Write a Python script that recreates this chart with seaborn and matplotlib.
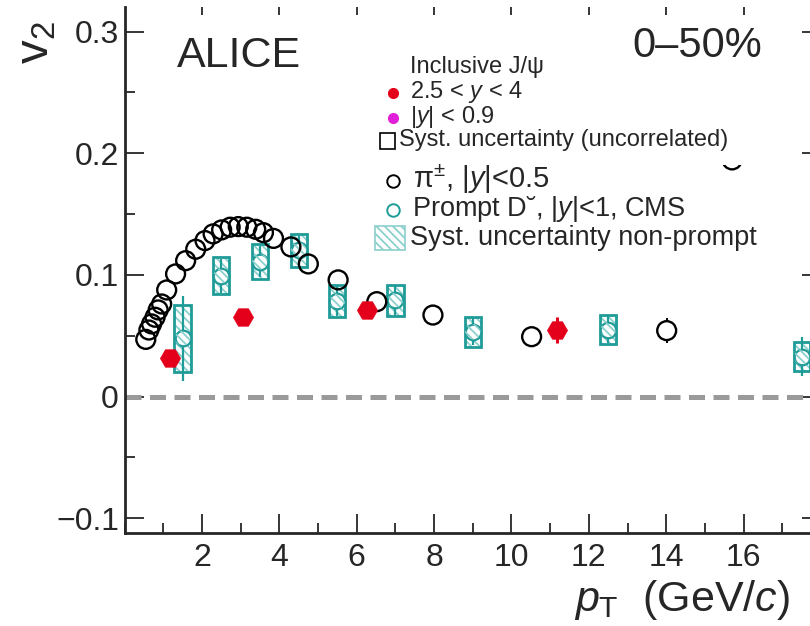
import matplotlib
matplotlib.use("Agg")
import matplotlib.pyplot as plt
import seaborn as sns
import pandas as pd
from matplotlib.patches import Rectangle
from matplotlib.lines import Line2D
from matplotlib.ticker import MultipleLocator, FixedLocator, NullFormatter

# ---------------- data ----------------
pion_pt = [0.55, 0.63, 0.70, 0.79, 0.87, 0.96, 1.09, 1.32, 1.58, 1.84, 2.08, 2.29, 2.51,
           2.73, 2.94, 3.16, 3.39, 3.59, 3.85, 4.30, 4.75, 5.52, 6.52, 7.97, 10.52, 14.01, 15.7]
pion_v2 = [0.047, 0.0547, 0.0597, 0.0652, 0.0712, 0.0761, 0.0876, 0.1008, 0.1117, 0.1211,
           0.1282, 0.1337, 0.1370, 0.1392, 0.1397, 0.1392, 0.1375, 0.1347, 0.1300, 0.1230,
           0.1090, 0.0959, 0.0780, 0.0670, 0.0492, 0.0542, 0.1945]
pion_err = [0.0] * 25 + [0.0105, 0.0]

jpsi_pt = [1.18, 3.07, 6.27, 11.17]
jpsi_v2 = [0.0315, 0.0652, 0.0712, 0.0547]
jpsi_err = [0.002, 0.002, 0.002, 0.011]

d_pt = [1.5, 2.5, 3.5, 4.5, 5.5, 7.0, 9.0, 12.5, 17.5]
d_v2 = [0.0479, 0.0994, 0.1109, 0.1203, 0.0785, 0.0791, 0.0533, 0.0550, 0.0326]
d_stat = [0.035, 0.014, 0.013, 0.012, 0.012, 0.012, 0.011, 0.011, 0.016]
d_syst = [0.0274, 0.0151, 0.0145, 0.0135, 0.0133, 0.0126, 0.0123, 0.0120, 0.0119]

x_ticks = [2, 4, 6, 8, 10, 12, 14, 16]
y_ticks = [-0.1, 0.0, 0.1, 0.2, 0.3]

# ---------------- style ----------------
sns.set_style("ticks")
plt.rcParams["font.family"] = ["Liberation Sans", "DejaVu Sans"]
plt.rcParams["mathtext.fontset"] = "custom"
plt.rcParams["mathtext.rm"] = "Liberation Sans"
plt.rcParams["mathtext.it"] = "Liberation Sans:italic"
plt.rcParams["mathtext.bf"] = "Liberation Sans:bold"
plt.rcParams["hatch.linewidth"] = 1.3

TEAL = "#1f9c98"
LTEAL = "#8ccfcc"
RED = "#e4001a"
MAG = "#e020d8"

W, H = 810, 626
fig = plt.figure(figsize=(W / 100, H / 100), dpi=100)


def fx(px):
    return px / W


def fy(py):
    return 1 - py / H


x_left, x_right = 124.5, 124.5 + 18 * 38.7
y_top, y_bot = 7.0, 533.3
ax = fig.add_axes([fx(x_left), fy(y_bot), (x_right - x_left) / W, (y_bot - y_top) / H])
ax.set_xlim(0, 18)
ax.set_ylim(-0.1124, 0.3202)

# zero line
ax.axhline(0, color="#9a9a9a", lw=3.6, dashes=(3.2, 1.7), zorder=1)

# D meson systematic boxes (hatched + outline) via bars
dfd = pd.DataFrame({"pt": d_pt, "v2": d_v2, "stat": d_stat, "syst": d_syst})
ax.bar(dfd["pt"], 2 * dfd["syst"], bottom=dfd["v2"] - dfd["syst"], width=0.42,
       facecolor="none", edgecolor=LTEAL, hatch="\\\\\\\\", linewidth=0, zorder=2)
ax.bar(dfd["pt"], 2 * dfd["syst"], bottom=dfd["v2"] - dfd["syst"], width=0.42,
       facecolor="none", edgecolor=TEAL, linewidth=2.0, zorder=3)
ax.errorbar(dfd["pt"], dfd["v2"], yerr=dfd["stat"], fmt="none", ecolor=TEAL,
            elinewidth=1.6, capsize=0, zorder=3)
sns.scatterplot(data=dfd, x="pt", y="v2", ax=ax, marker="o", s=125,
                facecolor="white", edgecolor=TEAL, linewidth=1.6, zorder=4, legend=False)
sns.scatterplot(data=dfd, x="pt", y="v2", ax=ax, marker="o", s=125,
                facecolor="none", edgecolor=LTEAL, hatch="\\\\\\\\", linewidth=0,
                zorder=4, legend=False)

# pions
dfp = pd.DataFrame({"pt": pion_pt, "v2": pion_v2, "err": pion_err})
dfe = dfp[dfp["err"] > 0]
ax.errorbar(dfe["pt"], dfe["v2"], yerr=dfe["err"], fmt="none", ecolor="black",
            elinewidth=1.4, capsize=0, zorder=5)
sns.scatterplot(data=dfe, x="pt", y="v2", ax=ax, marker="o", s=185,
                facecolor="white", edgecolor="none", linewidth=0, zorder=5, legend=False)
sns.scatterplot(data=dfp, x="pt", y="v2", ax=ax, marker="o", s=185,
                facecolor="none", edgecolor="black", linewidth=1.7, zorder=5, legend=False)
# mask (legend area covering the top of one point)
ax.add_patch(Rectangle((15.2, 0.1905), 1.0, 0.04, facecolor="white",
                       edgecolor="none", zorder=6))

# inclusive J/psi
dfj = pd.DataFrame({"pt": jpsi_pt, "v2": jpsi_v2, "err": jpsi_err})
ax.errorbar(dfj["pt"], dfj["v2"], yerr=dfj["err"], fmt="none", ecolor=RED,
            elinewidth=2.2, capsize=0, zorder=6)
sns.scatterplot(data=dfj, x="pt", y="v2", ax=ax, marker="H", s=210, color=RED,
                edgecolor=RED, linewidth=0.5, zorder=7, legend=False)

# axes cosmetics
ax.set_xlabel("")
ax.set_ylabel("")
for s in ["top", "right"]:
    ax.spines[s].set_visible(False)
for s in ["left", "bottom"]:
    ax.spines[s].set_linewidth(2.0)
ax.xaxis.set_major_locator(FixedLocator(x_ticks))
ax.xaxis.set_minor_locator(MultipleLocator(1))
ax.yaxis.set_major_locator(FixedLocator(y_ticks))
ax.yaxis.set_minor_locator(MultipleLocator(0.05))
ax.set_xticklabels([str(t) for t in x_ticks])
ax.set_yticklabels(["\u22120.1", "0", "0.1", "0.2", "0.3"])
ax.tick_params(axis="both", which="major", direction="in", length=13.5, width=1.3,
               labelsize=23, right=True)
ax.tick_params(axis="both", which="minor", direction="in", length=7.5, width=1.3,
               right=True)
ax.tick_params(axis="y", which="major", pad=4)
ax.tick_params(axis="x", which="major", pad=7)

sec = ax.secondary_xaxis("top")
sec.xaxis.set_major_locator(FixedLocator(x_ticks))
sec.xaxis.set_minor_locator(FixedLocator([]))
sec.xaxis.set_major_formatter(NullFormatter())
sec.tick_params(direction="in", length=6, width=1.3)
sec.spines["top"].set_visible(False)

# titles / labels
fig.text(fx(177), fy(56), "ALICE", fontsize=31, ha="left", va="center")
fig.text(fx(632), fy(46), "0\u201350%", fontsize=30, ha="left", va="center")
fig.text(fx(14), fy(64), "v$_{2}$", fontsize=34, rotation=90, ha="left", va="bottom")
fig.text(fx(790), fy(611), r"$p_{\mathrm{T}}$  (GeV/$c$)", fontsize=31, ha="right",
         va="baseline")

# legend block 1
fs1 = 17
fig.text(fx(410), fy(67), "Inclusive J/\u03c8", fontsize=fs1, ha="left", va="center")
fig.add_artist(Line2D([fx(393)], [fy(93)], marker="o", ms=7, color=RED, ls="none"))
fig.text(fx(410), fy(92), "2.5 < $y$ < 4", fontsize=fs1, ha="left", va="center")
fig.add_artist(Line2D([fx(393)], [fy(118)], marker="o", ms=7, color=MAG, ls="none"))
fig.text(fx(410), fy(117), "|$y$| < 0.9", fontsize=fs1, ha="left", va="center")
fig.add_artist(Rectangle((fx(380), fy(149)), fx(15), 16 / H, facecolor="none",
                         edgecolor="black", lw=1.2))
fig.text(fx(399), fy(140), "Syst. uncertainty (uncorrelated)", fontsize=fs1,
         ha="left", va="center")

# legend block 2
fig.add_artist(Line2D([fx(393)], [fy(181)], marker="o", ms=9, mfc="none", mec="black",
                      mew=1.4, ls="none"))
fig.text(fx(413), fy(179), "\u03c0$^{\\pm}$, |$y$|<0.5", fontsize=21, ha="left",
         va="center")
fig.add_artist(Line2D([fx(393)], [fy(210)], marker="o", ms=9, mfc="none", mec=TEAL,
                      mew=1.4, ls="none"))
fig.text(fx(412), fy(209), "Prompt D\u02d8, |$y$|<1, CMS", fontsize=19.5, ha="left",
         va="center")
fig.add_artist(Rectangle((fx(375), fy(250)), fx(30), 24 / H, facecolor="none",
                         edgecolor=LTEAL, hatch="\\\\\\\\", lw=1.2))
fig.text(fx(410), fy(238), "Syst. uncertainty non-prompt", fontsize=19.5, ha="left",
         va="center")

fig.savefig("out.png", dpi=100)
